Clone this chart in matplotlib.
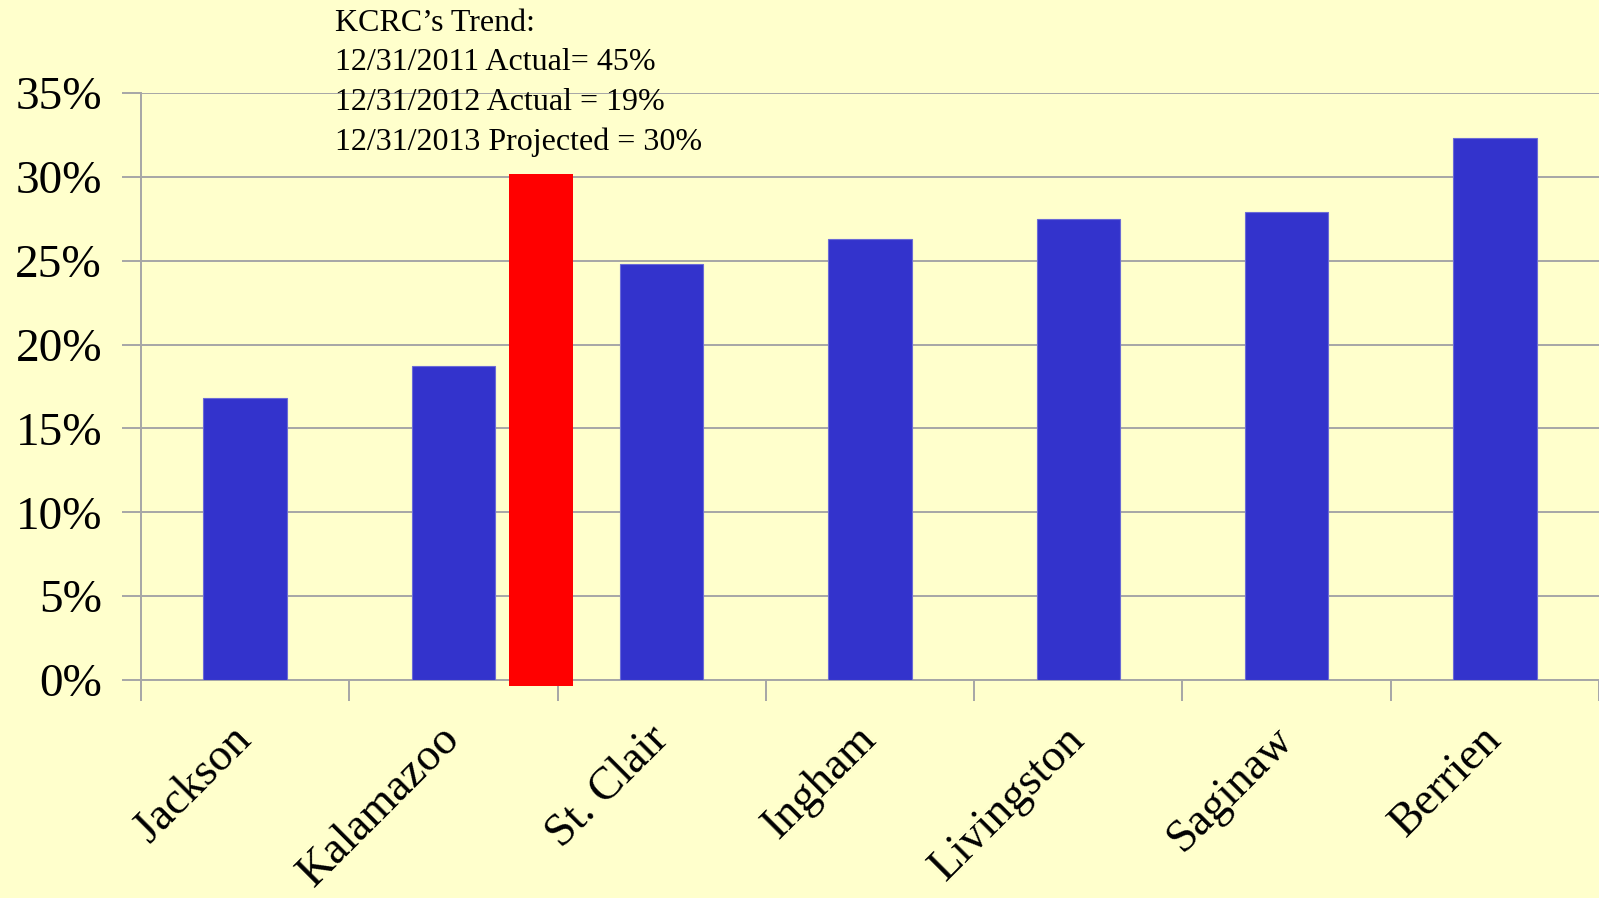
import matplotlib.pyplot as plt
from matplotlib.ticker import FixedLocator, PercentFormatter

counties = ['Jackson', 'Kalamazoo', 'St. Clair', 'Ingham', 'Livingston', 'Saginaw', 'Berrien']
rates = [16.8, 18.7, 24.8, 26.3, 27.5, 27.9, 32.3]

kcrc_projected = 30.2
trend_lines = ["KCRC\u2019s Trend:",
               "12/31/2011 Actual= 45%",
               "12/31/2012 Actual = 19%",
               "12/31/2013 Projected = 30%"]

bg = '#FFFFCC'
grid_col = '#A6A6A6'

plt.rcParams['font.family'] = ['Liberation Serif', 'DejaVu Serif']

fig = plt.figure(figsize=(15.99, 8.98), dpi=100, facecolor=bg)
ax = fig.add_axes([141 / 1599, 1 - 680 / 898, 1 - 141 / 1599, (680 - 93) / 898])
ax.set_facecolor(bg)

x = list(range(len(counties)))
ax.bar(x, rates, width=0.4, color='#3333CC', edgecolor='#6B6BD6', linewidth=0.8, zorder=3)

# KCRC's own projection, drawn as a red block between Kalamazoo and St. Clair
ax.bar(1.42, kcrc_projected + 0.36, bottom=-0.36, width=0.307, color='#FF0000',
       linewidth=0, zorder=4, clip_on=False)

ax.set_xlim(-0.5, len(counties) - 0.5)
ax.set_ylim(0, 35)
ax.set_yticks(range(0, 36, 5))
ax.yaxis.set_major_formatter(PercentFormatter(decimals=0))
ax.yaxis.grid(True, color=grid_col, linewidth=1.4, zorder=0)

ax.set_xticks(x)
ax.set_xticklabels(counties, rotation=45, ha='right', va='center', rotation_mode='anchor')
ax.xaxis.set_minor_locator(FixedLocator([i - 0.5 for i in range(len(counties) + 1)]))
ax.tick_params(axis='x', which='major', length=0, pad=38, labelsize=33)
ax.tick_params(axis='x', which='minor', length=15, width=1.4, color=grid_col)
ax.tick_params(axis='y', length=14, width=1.4, color=grid_col, pad=14, labelsize=34)

for side in ['top', 'right']:
    ax.spines[side].set_visible(False)
for side in ['left', 'bottom']:
    ax.spines[side].set_color(grid_col)
    ax.spines[side].set_linewidth(1.4)
ax.spines['left'].set_bounds(0, 35)

fig.text(335 / 1599, 1 - 9 / 898, "\n".join(trend_lines), fontsize=23,
         va='top', ha='left', linespacing=1.47)

fig.savefig('out.png', dpi=100, facecolor=bg)
